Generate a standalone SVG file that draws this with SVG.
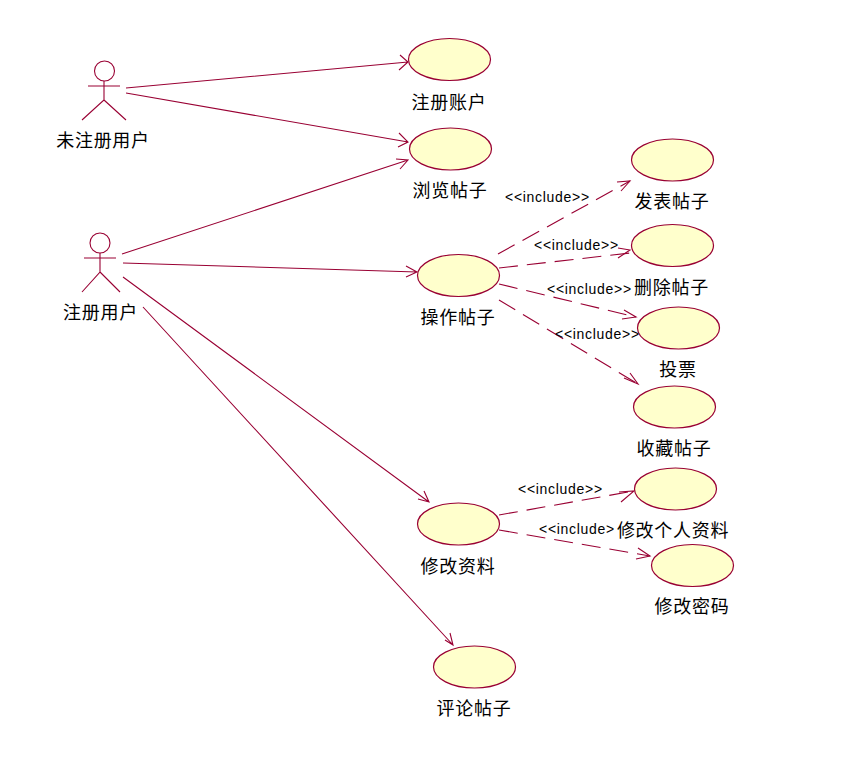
<svg xmlns="http://www.w3.org/2000/svg" width="853" height="777" viewBox="0 0 853 777">
<style>
.u{fill:#ffffcc;stroke:#990033;stroke-width:1.2}
.a{fill:none;stroke:#990033;stroke-width:1.1}
.n{fill:none;stroke:#990033;stroke-width:1.1}
.d{stroke-dasharray:19 9}
.t{font-family:"Noto Sans CJK SC","Noto Sans",sans-serif;font-size:18px;fill:#000;text-anchor:middle;letter-spacing:.7px}
.i{font-family:"Liberation Sans",sans-serif;font-size:14px;fill:#000;letter-spacing:.7px}
</style>
<rect width="853" height="777" fill="#fff"/>
<g id="connectors">
<path class="n" d="M126 88L408 62M400 55L408 62L399 70"/>
<path class="n" d="M126 93L408 142M399 133L408 142L398 147"/>
<path class="n" d="M122 254L408 160M396 159L408 160L400 169"/>
<path class="n" d="M123 263L417 272M406 266L417 272L406 277"/>
<path class="n" d="M123 277L429 502M418 499L429 502L424 491"/>
<path class="n" d="M143 307L453 645M445 640L453 645L450 633"/>
<path class="n d" d="M498 254L630 181"/>
<path class="n" d="M617 182L630 181L621 191"/>
<path class="n d" d="M499 268L630 253"/>
<path class="n" d="M618 248L630 250L618 258"/>
<path class="n d" d="M499 284L636 317"/>
<path class="n" d="M624 310L636 317L622 319"/>
<path class="n d" d="M499 300L638 384"/>
<path class="n" d="M630 373L638 384L624 378"/>
<path class="n d" d="M499 515L634 491"/>
<path class="n" d="M619 492L634 491L621 502"/>
<path class="n d" d="M499 530L650 556"/>
<path class="n" d="M638 548L650 556L636 559"/>
</g>
<g id="actor-unregistered"><circle class="a" cx="104.500" cy="71" r="10"/><path class="a" d="M88 86H120M104 81V100L82 120M104 100L126 120"/><text class="t" x="103" y="147">未注册用户</text></g>
<g id="actor-registered"><circle class="a" cx="100" cy="243" r="10"/><path class="a" d="M84 258H116M100 253V272L82 292M100 272L120 292"/><text class="t" x="100.500" y="319">注册用户</text></g>
<g id="uc-register"><ellipse class="u" cx="449.500" cy="59.500" rx="41" ry="21"/><text class="t" x="449" y="109">注册账户</text></g>
<g id="uc-browse"><ellipse class="u" cx="450.500" cy="149" rx="41" ry="21"/><text class="t" x="450" y="197">浏览帖子</text></g>
<g id="uc-manage"><ellipse class="u" cx="458.500" cy="275.500" rx="41" ry="21"/><text class="t" x="458" y="324">操作帖子</text></g>
<g id="uc-post"><ellipse class="u" cx="672.500" cy="160" rx="41" ry="21"/><text class="t" x="672" y="208">发表帖子</text></g>
<g id="uc-delete"><ellipse class="u" cx="672.500" cy="245.500" rx="41" ry="21"/><text class="t" x="671.500" y="294">删除帖子</text></g>
<g id="uc-vote"><ellipse class="u" cx="678.500" cy="328" rx="41" ry="21"/><text class="t" x="678" y="376">投票</text></g>
<g id="uc-favorite"><ellipse class="u" cx="674.500" cy="407" rx="41" ry="21"/><text class="t" x="674" y="455">收藏帖子</text></g>
<g id="uc-edit"><ellipse class="u" cx="458.500" cy="524" rx="41" ry="21"/><text class="t" x="458" y="573">修改资料</text></g>
<g id="uc-profile"><ellipse class="u" cx="675.500" cy="489" rx="41" ry="21"/><text class="t" x="673" y="537">修改个人资料</text></g>
<g id="uc-password"><ellipse class="u" cx="692.500" cy="565.500" rx="41" ry="21"/><text class="t" x="692" y="613">修改密码</text></g>
<g id="uc-comment"><ellipse class="u" cx="474.500" cy="667" rx="41" ry="21"/><text class="t" x="474" y="715">评论帖子</text></g>
<g id="labels">
<text class="i" x="505" y="202">&lt;&lt;include&gt;&gt;</text>
<text class="i" x="534" y="250">&lt;&lt;include&gt;&gt;</text>
<text class="i" x="547" y="294">&lt;&lt;include&gt;&gt;</text>
<text class="i" x="555" y="339">&lt;&lt;include&gt;&gt;</text>
<text class="i" x="518" y="494">&lt;&lt;include&gt;&gt;</text>
<text class="i" x="539" y="534">&lt;&lt;include&gt;</text>
</g>
</svg>
